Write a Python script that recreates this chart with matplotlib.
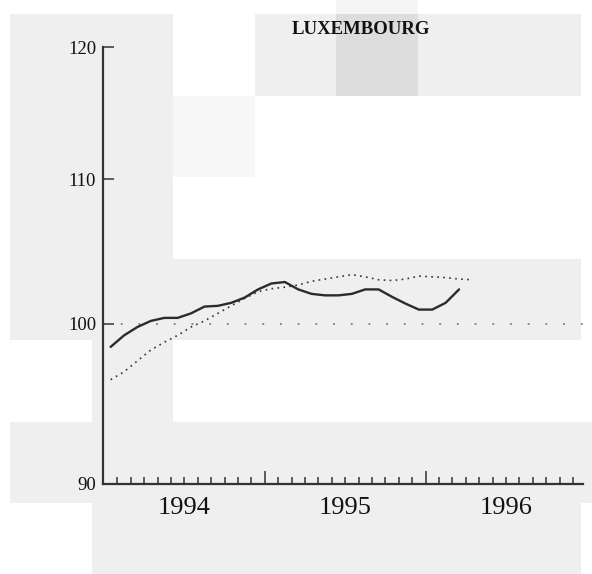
import numpy as np
import matplotlib.pyplot as plt
from matplotlib.patches import Rectangle

# Monthly index values, Jan 1994 onwards
solid_vals = [98.5, 99.25, 99.8, 100.2, 100.4, 100.4, 100.7, 101.15, 101.2,
              101.4, 101.75, 102.3, 102.7, 102.8, 102.3, 102.0, 101.9, 101.9,
              102.0, 102.3, 102.3, 101.8, 101.35, 100.95, 100.95, 101.4, 102.3]
dotted_vals = [96.4, 96.9, 97.6, 98.3, 98.8, 99.25, 99.8, 100.2, 100.7,
               101.2, 101.7, 102.15, 102.35, 102.45, 102.6, 102.85, 103.0, 103.15,
               103.3, 103.15, 102.95, 102.9, 103.0, 103.2, 103.15, 103.1, 103.0, 102.95]
years = ["1994", "1995", "1996"]
y_ticks = [90, 100, 110, 120]
title = "LUXEMBOURG"

solid_x = np.arange(len(solid_vals)) + 0.5
dotted_x = np.arange(len(dotted_vals)) + 0.5
n_months = 12 * len(years)

W, H = 592, 574
fig = plt.figure(figsize=(W / 100, H / 100), dpi=100)
fig.patch.set_facecolor("white")

# scanned-paper background blocks (grid of ~81.5 px squares)
g0x, g0y, gs = 10, 14, 81.5
blocks = [(0, 0, "#efefef"), (1, 0, "#efefef"), (3, 0, "#efefef"), (4, 0, "#dddddd"),
          (5, 0, "#efefef"), (6, 0, "#efefef"),
          (0, 1, "#efefef"), (1, 1, "#efefef"), (2, 1, "#f7f7f7"),
          (0, 2, "#efefef"), (1, 2, "#efefef"),
          (1, 4, "#efefef"),
          (1, 6, "#efefef"), (2, 6, "#efefef"), (3, 6, "#efefef"),
          (4, 6, "#efefef"), (5, 6, "#efefef"), (6, 6, "#efefef")]
blocks += [(c, 3, "#efefef") for c in range(7)]
blocks += [(c, 5, "#efefef") for c in range(8)]
for c, r, col in blocks:
    x0 = g0x + c * gs
    y0 = g0y + r * gs
    fig.add_artist(Rectangle((x0 / W, 1 - (y0 + gs) / H), gs / W, gs / H,
                             transform=fig.transFigure, facecolor=col,
                             edgecolor="none", zorder=-5))
fig.add_artist(Rectangle(((g0x + 4 * gs) / W, 1 - g0y / H), gs / W, g0y / H,
                         transform=fig.transFigure, facecolor="#f5f5f5",
                         edgecolor="none", zorder=-5))

ax = fig.add_axes([103 / W, 90 / H, 480 / W, 437 / H])
ax.set_facecolor("none")

ax.axhline(100, color="#8a8a8a", lw=1.4, linestyle=(0, (1, 8.1)), zorder=1)
ax.plot(dotted_x, dotted_vals, color="#333333", lw=1.2, linestyle=(0, (1, 2.6)), zorder=2)
ax.plot(solid_x, solid_vals, color="#2b2b2b", lw=1.7, solid_joinstyle="round",
        solid_capstyle="round", zorder=3)

ax.set_yscale("log")
ax.set_ylim(90, 120)
ax.set_xlim(-0.07, 35.75)

ax.set_yticks(y_ticks)
ax.set_yticklabels([str(v) for v in y_ticks], fontfamily="Liberation Serif",
                   fontsize=13.5, color="#111111")
ax.yaxis.set_minor_locator(plt.NullLocator())
ax.tick_params(axis="y", direction="in", length=8, width=1.2, pad=5, color="#444444")

ax.set_xticks(np.arange(12, n_months, 12))
ax.set_xticks(np.arange(1, n_months), minor=True)
ax.set_xticklabels([])
ax.tick_params(axis="x", which="major", direction="in", length=9.5, width=1.1, color="#333333")
ax.tick_params(axis="x", which="minor", direction="in", length=5, width=1.1, color="#333333")

sec = ax.secondary_xaxis("bottom")
sec.set_xticks(np.arange(6, n_months, 12))
sec.set_xticklabels(years, fontfamily="Liberation Serif", fontsize=19, color="#111111")
sec.tick_params(length=0, pad=9)
sec.spines["bottom"].set_visible(False)

for s in ["top", "right"]:
    ax.spines[s].set_visible(False)
ax.spines["left"].set_linewidth(1.6)
ax.spines["left"].set_color("#333333")
ax.spines["bottom"].set_linewidth(1.6)
ax.spines["bottom"].set_color("#333333")

fig.text(361 / W, 1 - 30 / H, title, ha="center", va="center",
         fontfamily="Liberation Serif", fontweight="bold", fontsize=13.5, color="#111111")

fig.savefig("out.png", dpi=100)
